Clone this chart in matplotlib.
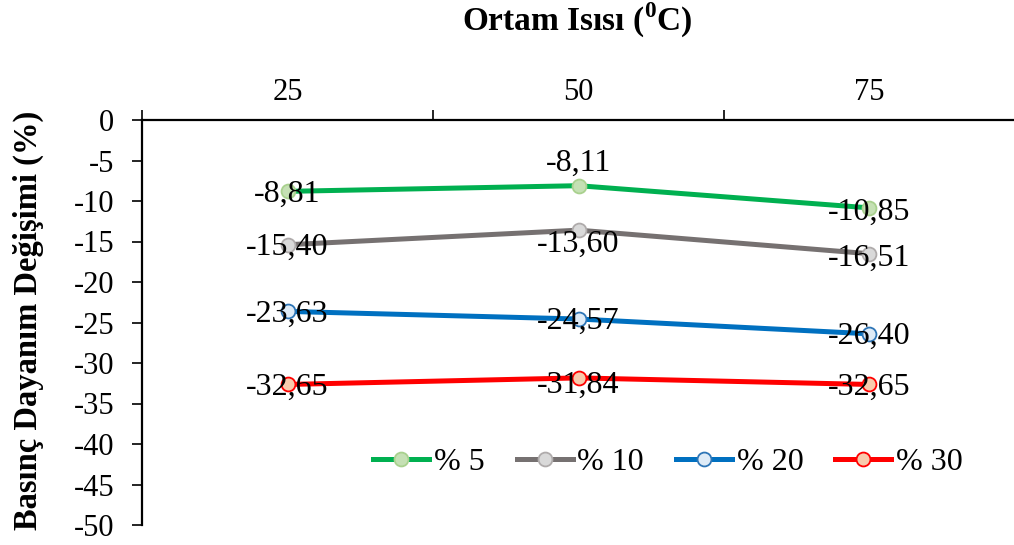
import matplotlib
matplotlib.use("Agg")
import matplotlib.pyplot as plt

plt.rcParams['font.family'] = ['Liberation Serif', 'DejaVu Serif']
plt.rcParams['mathtext.fontset'] = 'custom'
plt.rcParams['mathtext.rm'] = 'Liberation Serif'
plt.rcParams['mathtext.bf'] = 'Liberation Serif:bold'
plt.rcParams['axes.unicode_minus'] = False

temperatures = ["25", "50", "75"]
series_names = ["% 5", "% 10", "% 20", "% 30"]
values_5 = [-8.81, -8.11, -10.85]
values_10 = [-15.40, -13.60, -16.51]
values_20 = [-23.63, -24.57, -26.40]
values_30 = [-32.65, -31.84, -32.65]

line_colors = ["#00B050", "#767171", "#0070C0", "#FF0000"]
face_colors = ["#C5E0B4", "#D9D9D9", "#DEEBF7", "#F8CBAD"]
edge_colors = ["#A9D18E", "#AFABAB", "#2E75B6", "#FF0000"]

# vertical label offsets in points (positive = up)
label_offsets = [
    [-2, 16, -3],
    [-2, -10, -3],
    [-2, -2, -2],
    [-2, -5, -2],
]

fig = plt.figure(figsize=(10.14, 5.45), dpi=100)
ax = fig.add_axes([142 / 1014, 20 / 545, 873 / 1014, 405 / 545])

x = list(range(len(temperatures)))
all_series = [values_5, values_10, values_20, values_30]
for vals, name, lc, fc, ec, offs in zip(all_series, series_names, line_colors,
                                         face_colors, edge_colors, label_offsets):
    ax.plot(x, vals, color=lc, lw=3.6, marker='o', markersize=10,
            markerfacecolor=fc, markeredgecolor=ec, markeredgewidth=1.3,
            label=name, zorder=3)
    for xi, v, o in zip(x, vals, offs):
        ax.annotate(f"{v:.2f}".replace('.', ','), (xi, v), xytext=(0, o),
                    textcoords='offset points', ha='center', va='center',
                    fontsize=23, zorder=5)

ax.set_xlim(-0.5, 2.5)
ax.set_ylim(-50, 0)
ax.set_yticks(range(-50, 1, 5))
ax.tick_params(axis='y', labelsize=22, length=7, width=1.2, direction='out', pad=13)

ax.xaxis.tick_top()
ax.set_xticks([-0.5, 0.5, 1.5, 2.5])
ax.set_xticklabels([])
ax.set_xticks(x, minor=True)
ax.set_xticklabels(temperatures, minor=True, fontsize=22)
ax.tick_params(axis='x', which='major', length=7, width=1.2, direction='out')
ax.tick_params(axis='x', which='minor', length=0, pad=9)

for side in ['right', 'bottom']:
    ax.spines[side].set_visible(False)
for side in ['left', 'top']:
    ax.spines[side].set_linewidth(1.6)

fig.text(28 / 1014, 1 - 320 / 545, "Basınç Dayanım Değişimi (%)", rotation=90,
         ha='center', va='center', fontsize=23.5, fontweight='bold')
fig.text(577 / 1014, 1 - 20 / 545, r"Ortam Isısı ($^{\mathbf{0}}$C)", ha='center', va='center',
         fontsize=24, fontweight='bold')

ax.legend(loc='center', bbox_to_anchor=((668 - 142) / 873, (525 - 462) / 405),
          ncol=4, frameon=False, fontsize=23, handlelength=1.75, handletextpad=0.15,
          columnspacing=1.0, borderpad=0, borderaxespad=0)

fig.savefig("out.png", dpi=100)
